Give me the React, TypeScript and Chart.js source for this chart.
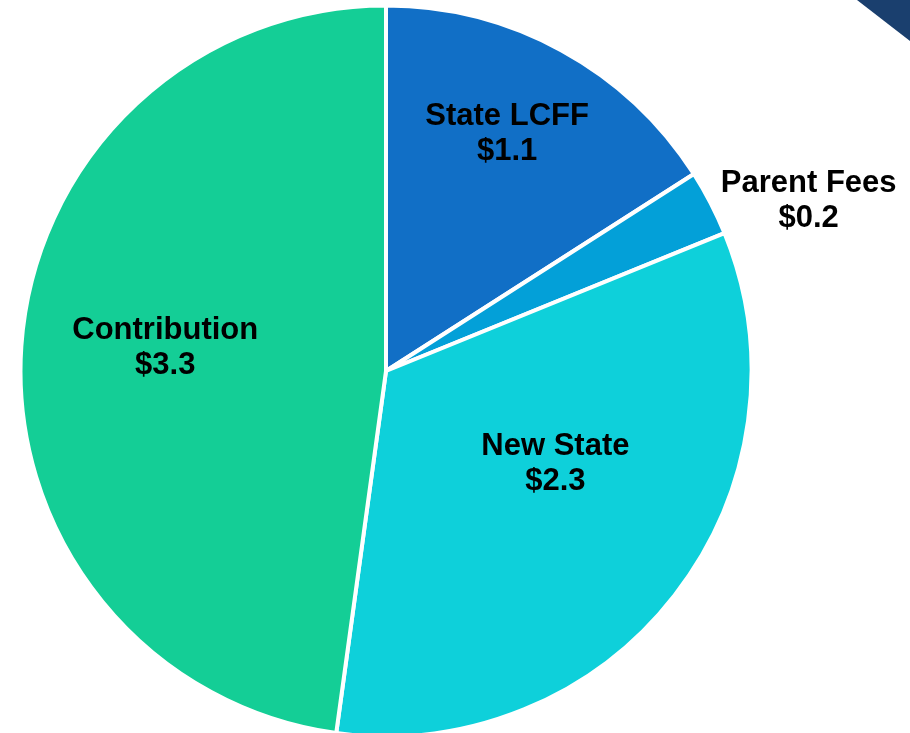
import React, { useEffect, useRef } from "react";
import { Chart, registerables } from "chart.js";

Chart.register(...registerables);

const categories = ["State LCFF", "Parent Fees", "New State", "Contribution"];
const values = [1.1, 0.2, 2.3, 3.3];
const colors = ["#116FC6", "#03A0D8", "#0ED0DA", "#14CE96"];

// label placement: radial factor of outer radius, angle offset (deg) from slice middle
const labelRadial = [0.735, 1.249, 0.525, 0.608];
const labelAngleOffset = [-1.9, 5.2, -9.8, 2.7];

const labelPlugin = {
  id: "sliceLabels",
  afterDatasetsDraw(chart: any) {
    const ctx = chart.ctx;
    const meta = chart.getDatasetMeta(0);
    ctx.save();
    ctx.font = 'bold 31px "Liberation Sans", Arial, sans-serif';
    ctx.fillStyle = "#000000";
    ctx.textAlign = "center";
    ctx.textBaseline = "middle";
    meta.data.forEach((arc: any, i: number) => {
      const p = arc.getProps(["x", "y", "startAngle", "endAngle", "outerRadius"], true);
      const mid = (p.startAngle + p.endAngle) / 2 + (labelAngleOffset[i] * Math.PI) / 180;
      const r = p.outerRadius * labelRadial[i];
      const x = p.x + Math.cos(mid) * r;
      const y = p.y + Math.sin(mid) * r;
      ctx.fillText(categories[i], x, y - 15);
      ctx.fillText("$" + values[i].toFixed(1), x, y + 20);
    });
    ctx.restore();
  },
};

const cornerPlugin = {
  id: "cornerMark",
  afterDraw(chart: any) {
    const ctx = chart.ctx;
    const w = chart.width;
    ctx.save();
    ctx.fillStyle = "#1A3F6E";
    ctx.beginPath();
    ctx.moveTo(w - 53, 0);
    ctx.lineTo(w, 0);
    ctx.lineTo(w, 41);
    ctx.closePath();
    ctx.fill();
    ctx.restore();
  },
};

export default function App() {
  const ref = useRef<HTMLCanvasElement>(null);
  useEffect(() => {
    if (!ref.current) return;
    const chart = new Chart(ref.current, {
      type: "pie",
      data: {
        labels: categories,
        datasets: [
          {
            data: values,
            backgroundColor: colors,
            borderColor: "#FFFFFF",
            borderWidth: 4,
          },
        ],
      },
      options: {
        responsive: false,
        animation: false,
        radius: 365.5,
        layout: { padding: { left: 22, right: 160, top: 9, bottom: 0 } },
        plugins: {
          legend: { display: false },
          tooltip: { enabled: false },
        },
      } as any,
      plugins: [labelPlugin, cornerPlugin],
    });
    return () => chart.destroy();
  }, []);
  return (
    <div style={{ position: "fixed", left: 0, top: 0, width: 910, height: 733, background: "#FFFFFF" }}>
      <canvas ref={ref} width={910} height={733} />
    </div>
  );
}
